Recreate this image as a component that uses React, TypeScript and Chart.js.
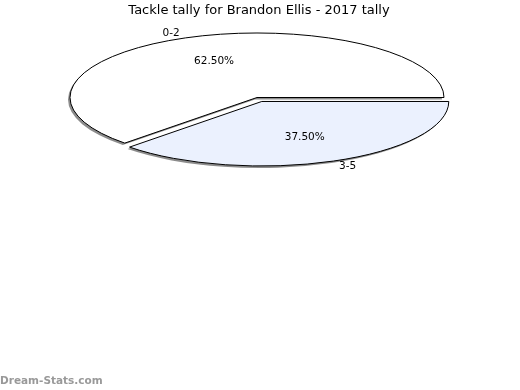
import React, { useEffect, useRef } from "react";
import { Chart, registerables } from "chart.js";

Chart.register(...registerables);

// ---- data ----
const TITLE = "Tackle tally for Brandon Ellis - 2017 tally";
const categories = ["0-2", "3-5"];
const values = [5, 3];
const sliceColors = ["#FFFFFF", "#EBF1FE"];
const explode = [0, 12.5];
const WATERMARK = "Dream-Stats.com";

// vertical squash of the pie (pseudo 3D tilt)
const K = 0.345;
const FONT = "'DejaVu Sans', 'Liberation Sans', sans-serif";

const flatPie = {
  id: "flatPie",
  beforeDatasetDraw(chart: any, args: any) {
    const ctx = chart.ctx as CanvasRenderingContext2D;
    const ca = chart.chartArea;
    const cy = (ca.top + ca.bottom) / 2;
    const meta = args.meta;
    ctx.save();
    const base = ctx.getTransform();
    ctx.translate(0, cy);
    ctx.scale(1, K);
    ctx.translate(0, -cy);
    const origStroke = CanvasRenderingContext2D.prototype.stroke;
    (ctx as any).stroke = function (...a: any[]) {
      const t = this.getTransform();
      const sc = this.shadowColor;
      this.shadowColor = "rgba(0,0,0,0)";
      this.setTransform(base);
      origStroke.apply(this, a as any);
      this.setTransform(t);
      this.shadowColor = sc;
    };
    ctx.shadowColor = "rgba(0,0,0,0.45)";
    ctx.shadowOffsetX = -2;
    ctx.shadowOffsetY = 2;
    ctx.shadowBlur = 0;
    meta.data.forEach((el: any, i: number) => {
      const d = explode[i] || 0;
      const half = (el.startAngle + el.endAngle) / 2;
      ctx.save();
      ctx.translate(Math.cos(half) * d, Math.sin(half) * d);
      el.draw(ctx);
      ctx.restore();
    });
    delete (ctx as any).stroke;
    ctx.restore();
    return false;
  },
  afterDatasetsDraw(chart: any) {
    const ctx = chart.ctx as CanvasRenderingContext2D;
    const ca = chart.chartArea;
    const cyMid = (ca.top + ca.bottom) / 2;
    const toY = (py: number) => cyMid + (py - cyMid) * K;
    const meta = chart.getDatasetMeta(0);
    const data = chart.data.datasets[0].data as number[];
    const total = data.reduce((s, v) => s + v, 0);

    ctx.save();
    ctx.fillStyle = "#000";
    ctx.font = `10.5px ${FONT}`;
    meta.data.forEach((el: any, i: number) => {
      const off = explode[i] || 0;
      const half = (el.startAngle + el.endAngle) / 2;
      const cx = el.x + Math.cos(half) * off;
      const cy = el.y + Math.sin(half) * off;
      const R = el.outerRadius;
      const pr = R * 0.6;
      ctx.textAlign = "center";
      ctx.textBaseline = "middle";
      ctx.fillText(
        ((data[i] / total) * 100).toFixed(2) + "%",
        cx + Math.cos(half) * pr,
        toY(cy + Math.sin(half) * pr)
      );
      const lr = R * 1.08;
      const c = Math.cos(half);
      ctx.textAlign = c < 0 ? "right" : "left";
      ctx.fillText(
        chart.data.labels[i],
        cx + c * lr,
        toY(cy + Math.sin(half) * lr)
      );
    });
    ctx.restore();
  },
  afterDraw(chart: any) {
    const ctx = chart.ctx as CanvasRenderingContext2D;
    ctx.save();
    ctx.fillStyle = "#000";
    ctx.font = `13px ${FONT}`;
    ctx.textAlign = "center";
    ctx.textBaseline = "alphabetic";
    ctx.fillText(TITLE, 259, 14);
    ctx.fillStyle = "#999";
    ctx.font = `bold 10.5px ${FONT}`;
    ctx.textAlign = "left";
    ctx.fillText(WATERMARK, 0, 384);
    ctx.restore();
  },
};

export default function App() {
  const ref = useRef<HTMLCanvasElement>(null);
  useEffect(() => {
    const chart = new Chart(ref.current!, {
      type: "pie",
      data: {
        labels: categories,
        datasets: [
          {
            data: values,
            backgroundColor: sliceColors,
            borderColor: "#000",
            borderWidth: 1,
            clip: false as any,
          },
        ],
      },
      options: {
        responsive: false,
        animation: false,
        rotation: 225,
        radius: 187,
        layout: { padding: { left: 0, right: 6, top: 0, bottom: 195 } },
        plugins: {
          legend: { display: false },
          title: { display: false },
          tooltip: { enabled: false },
        },
        events: [],
      },
      plugins: [flatPie],
    });
    return () => chart.destroy();
  }, []);
  return (
    <div style={{ position: "fixed", left: 0, top: 0, width: 520, height: 390, background: "#fff" }}>
      <canvas ref={ref} width={520} height={390} style={{ display: "block" }} />
    </div>
  );
}
